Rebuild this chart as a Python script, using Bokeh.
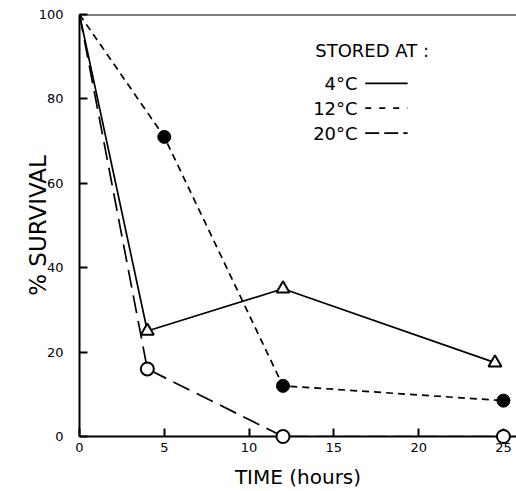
from bokeh.plotting import figure
from bokeh.models import Span, Label, FixedTicker
from bokeh.embed import file_html
from bokeh.resources import INLINE

# data
t_4 = [0, 4, 12, 24.5]
s_4 = [100, 25, 35, 17.5]
t_12 = [0, 5, 12, 25]
s_12 = [100, 71, 12, 8.5]
t_20 = [0, 4, 12, 25]
s_20 = [100, 16, 0, 0]
x_ticks = [0, 5, 10, 15, 20, 25]
y_ticks = [0, 20, 40, 60, 80, 100]

FONT = "DejaVu Sans"

p = figure(width=516, height=491, x_range=(0, 25.77), y_range=(0, 100),
           output_backend="svg", toolbar_location=None,
           min_border_left=79, min_border_right=0, min_border_top=14,
           min_border_bottom=54)
p.outline_line_color = None
p.grid.visible = False
p.background_fill_color = "white"

for ax in (p.xaxis[0], p.yaxis[0]):
    ax.major_tick_in = 8
    ax.major_tick_out = 0
    ax.major_tick_line_width = 2
    ax.major_tick_line_color = "black"
    ax.minor_tick_line_color = None
    ax.axis_line_width = 2
    ax.axis_line_color = "black"
    ax.major_label_text_font = FONT
    ax.major_label_text_font_size = "13px"
    ax.major_label_text_color = "black"
    ax.axis_label_text_font = FONT
    ax.axis_label_text_font_style = "normal"
    ax.axis_label_text_color = "black"

p.xaxis.ticker = FixedTicker(ticks=x_ticks)
p.yaxis.ticker = FixedTicker(ticks=y_ticks)
p.xaxis.major_label_standoff = 6
p.yaxis.major_label_standoff = 16
p.xaxis.axis_label = "TIME (hours)"
p.yaxis.axis_label = "% SURVIVAL"
p.xaxis.axis_label_text_font_size = "20px"
p.yaxis.axis_label_text_font_size = "23px"
p.xaxis.axis_label_standoff = 10
p.yaxis.axis_label_standoff = -15

p.add_layout(Span(location=100, dimension="width", line_color="black", line_width=2))

# series
p.line(t_4, s_4, line_color="black", line_width=1.7)
r1 = p.scatter(t_4[1:], s_4[1:], marker="triangle", size=13, fill_color="white",
               line_color="black", line_width=2)

p.line(t_12, s_12, line_color="black", line_width=1.7, line_dash="7 5")
r2 = p.scatter(t_12[1:], s_12[1:], marker="circle", size=13, fill_color="black",
               line_color="black")

p.line(t_20, s_20, line_color="black", line_width=1.7, line_dash="18 8")
r3 = p.scatter(t_20[1:], s_20[1:], marker="circle", size=13, fill_color="white",
               line_color="black", line_width=2)
for r in (r1, r2, r3):
    r.level = "overlay"

# legend block (drawn as text + sample lines)
leg_title = "STORED AT :"
leg_labels = ["4°C", "12°C", "20°C"]
leg_y = [83.7, 77.8, 71.9]
leg_dash = ["solid", "6 8", "14 5"]

p.add_layout(Label(x=13.9, y=91.5, text=leg_title, text_font=FONT,
                   text_font_size="18px", text_baseline="middle", text_color="black"))
for lab, yy, dash in zip(leg_labels, leg_y, leg_dash):
    p.add_layout(Label(x=16.4, y=yy, text=lab, text_font=FONT, text_font_size="18px",
                       text_align="right", text_baseline="middle", text_color="black"))
    p.line([16.85, 19.35], [yy, yy], line_color="black", line_width=1.7, line_dash=dash)

open("out.html", "w").write(file_html(p, INLINE))
